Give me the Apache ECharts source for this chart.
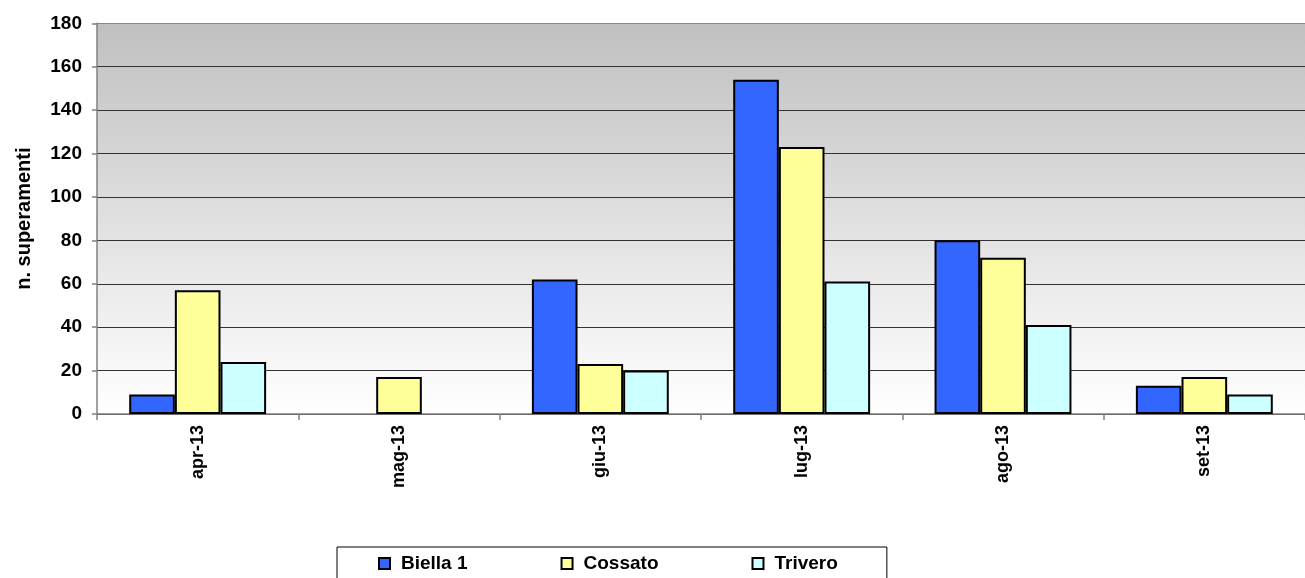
<!DOCTYPE html>
<html>
<head>
<meta charset="utf-8">
<script src="https://cdn.jsdelivr.net/npm/echarts@6/dist/echarts.min.js"></script>
<style>
html,body{margin:0;padding:0;background:#fff;}
#c{width:1305px;height:578px;}
</style>
</head>
<body>
<div id="c"></div>
<script>
var categories = ['apr-13', 'mag-13', 'giu-13', 'lug-13', 'ago-13', 'set-13'];
var biella = [9, null, 62, 154, 80, 13];
var cossato = [57, 17, 23, 123, 72, 17];
var trivero = [24, null, 20, 61, 41, 9];
var seriesNames = ['Biella 1', 'Cossato', 'Trivero'];
var yTicks = {min: 0, max: 180, interval: 20};
var yName = 'n. superamenti';

var FONT = 'Liberation Sans, Arial, sans-serif';
var chart = echarts.init(document.getElementById('c'), null, {renderer: 'canvas'});
var barBorder = {borderColor: '#000', borderWidth: 2};
chart.setOption({
  animation: false,
  backgroundColor: '#fff',
  grid: {
    left: 97, top: 23.3, right: 0, bottom: 164,
    show: true,
    borderWidth: 0,
    backgroundColor: new echarts.graphic.LinearGradient(0, 0, 0, 1, [
      {offset: 0, color: '#c0c0c0'},
      {offset: 1, color: '#ffffff'}
    ])
  },
  legend: {
    left: 337, top: 547,
    padding: [7, 49, 7, 41],
    itemGap: 93,
    itemWidth: 11, itemHeight: 11,
    icon: 'rect',
    borderColor: '#000', borderWidth: 1,
    textStyle: {fontFamily: FONT, fontWeight: 'bold', fontSize: 19, color: '#000', padding: [0, 0, 0, 6]},
    data: seriesNames
  },
  xAxis: {
    type: 'category',
    data: categories,
    axisLine: {lineStyle: {color: '#808080', width: 1.5}},
    axisTick: {show: true, alignWithLabel: false, length: 6, lineStyle: {color: '#808080', width: 1.5}},
    axisLabel: {rotate: 90, margin: 11, fontFamily: FONT, fontWeight: 'bold', fontSize: 18, color: '#000'},
    splitLine: {show: false}
  },
  yAxis: {
    type: 'value',
    min: yTicks.min, max: yTicks.max, interval: yTicks.interval,
    name: yName,
    nameLocation: 'middle',
    nameRotate: 90,
    nameGap: 63,
    nameTextStyle: {fontFamily: FONT, fontWeight: 'bold', fontSize: 20, color: '#000'},
    axisLine: {show: true, lineStyle: {color: '#808080', width: 1.5}},
    axisTick: {show: true, length: 5, lineStyle: {color: '#808080', width: 1.5}},
    axisLabel: {margin: 15, fontFamily: FONT, fontWeight: 'bold', fontSize: 19, color: '#000'},
    splitLine: {show: true, lineStyle: {color: ['#333','#333','#333','#333','#333','#333','#333','#333','#333','#888'], width: 1}}
  },
  series: [
    {name: seriesNames[0], type: 'bar', data: biella, barGap: '0%', barCategoryGap: '32%',
      itemStyle: Object.assign({color: '#3366ff'}, barBorder)},
    {name: seriesNames[1], type: 'bar', data: cossato, barGap: '0%', barCategoryGap: '32%',
      itemStyle: Object.assign({color: '#ffff99'}, barBorder)},
    {name: seriesNames[2], type: 'bar', data: trivero, barGap: '0%', barCategoryGap: '32%',
      itemStyle: Object.assign({color: '#ccffff'}, barBorder)}
  ]
});
</script>
</body>
</html>
